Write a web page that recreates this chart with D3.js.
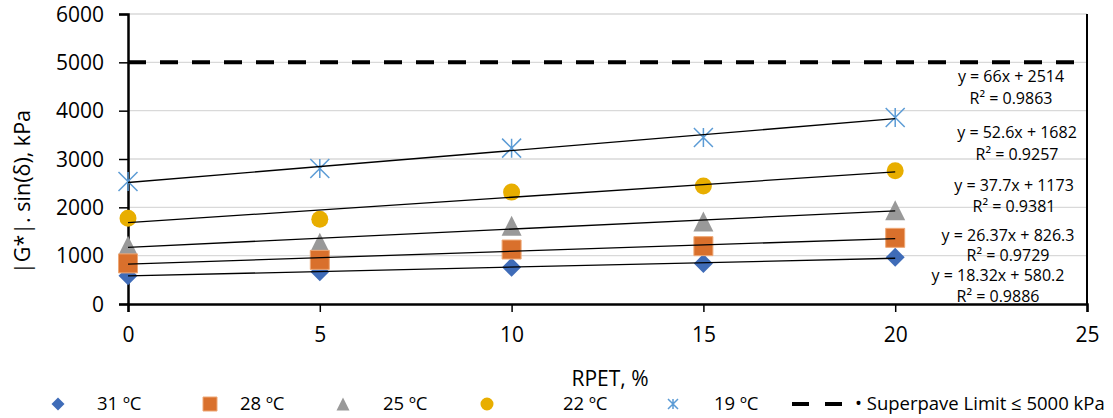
<!DOCTYPE html>
<html><head><meta charset="utf-8">
<script src="https://cdn.jsdelivr.net/npm/d3@7"></script>
<style>
body{margin:0;background:#fff}
svg{font-family:"Open Sans", Lato, sans-serif; display:block}
</style></head>
<body><svg id="chart" width="1113" height="418"></svg>
<script>
// ---- data ----
const rpet = [0, 5, 10, 15, 20];
const series31 = [585, 665, 760, 840, 965];
const series28 = [840, 913, 1127, 1197, 1369];
const series25 = [1203, 1265, 1618, 1707, 1940];
const series22 = [1775, 1755, 2315, 2440, 2755];
const series19 = [2535, 2805, 3225, 3445, 3860];
const seriesNames = ["31 ºC", "28 ºC", "25 ºC", "22 ºC", "19 ºC"];
const slopes = [18.32, 26.37, 37.7, 52.6, 66];
const intercepts = [580.2, 826.3, 1173, 1682, 2514];
const eqLabels = ["y = 18.32x + 580.2", "y = 26.37x + 826.3", "y = 37.7x + 1173", "y = 52.6x + 1682", "y = 66x + 2514"];
const r2Labels = ["R² = 0.9886", "R² = 0.9729", "R² = 0.9381", "R² = 0.9257", "R² = 0.9863"];
const xTicks = [0, 5, 10, 15, 20, 25];
const yTicks = [0, 1000, 2000, 3000, 4000, 5000, 6000];
const limitValue = 5000;
const limitLabel = "• Superpave Limit ≤ 5000 kPa";
const xTitle = "RPET, %";
const yTitle = "|G*|. sin(δ), kPa";

// ---- styles / layout ----
const colors = ["#3f6cb8", "#d9702c", "#999999", "#e8ae00", "#5b9bd5"];
const shapes = ["diamond", "square", "triangle", "circle", "star"];
const labelPos = [[998, 275], [1008, 235], [1014, 185], [1017, 132], [1011, 76]];
const labelGap = [21, 20, 21, 22, 22];
const legendPos = [[58, 97], [210, 240], [343, 383], [487, 563], [673, 714]];

const svg = d3.select("#chart");
const x = d3.scaleLinear().domain([0, 25]).range([128, 1087]);
const y = d3.scaleLinear().domain([0, 6000]).range([304, 14]);

// gridlines
svg.append("g").selectAll("line").data(yTicks.filter(d => d > 0)).join("line")
  .attr("x1", x(0)).attr("x2", x(25)).attr("y1", d => y(d)).attr("y2", d => y(d))
  .attr("stroke", "#d9d9d9").attr("stroke-width", 1.3);

// right border
svg.append("line").attr("x1", x(25)).attr("x2", x(25)).attr("y1", y(6000)).attr("y2", y(0))
  .attr("stroke", "#000").attr("stroke-width", 2);

// limit line
svg.append("line").attr("x1", x(0)).attr("x2", x(25)).attr("y1", y(limitValue)).attr("y2", y(limitValue))
  .attr("stroke", "#000").attr("stroke-width", 4).attr("stroke-dasharray", "18,14");

// axes
const yAxis = svg.append("g").attr("transform", `translate(${x(0)},0)`)
  .call(d3.axisLeft(y).tickValues(yTicks).tickSize(9).tickPadding(15).tickFormat(d3.format("d")));
const xAxis = svg.append("g").attr("transform", `translate(0,${y(0)})`)
  .call(d3.axisBottom(x).tickValues(xTicks).tickSize(8).tickPadding(15).tickFormat(d3.format("d")));
[xAxis, yAxis].forEach(a => {
  a.select(".domain").attr("stroke", "#000").attr("stroke-width", 2.5);
  a.selectAll(".tick line").attr("stroke", "#000").attr("stroke-width", 1.5);
  a.selectAll("text").attr("font-size", 21).attr("fill", "#000").attr("font-family", "'Open Sans', Lato, sans-serif");
});
yAxis.selectAll(".tick text").attr("dy", "0.34em");

function markerPath(shape, cx, cy, s) {
  const h = s / 2;
  if (shape === "diamond") return `M${cx},${cy - h}L${cx + h},${cy}L${cx},${cy + h}L${cx - h},${cy}Z`;
  if (shape === "square") return `M${cx - h},${cy - h}H${cx + h}V${cy + h}H${cx - h}Z`;
  if (shape === "triangle") return `M${cx},${cy - h}L${cx + h},${cy + h}L${cx - h},${cy + h}Z`;
  if (shape === "circle") return `M${cx - h},${cy}A${h},${h} 0 1,0 ${cx + h},${cy}A${h},${h} 0 1,0 ${cx - h},${cy}Z`;
  // star: X plus vertical line
  return `M${cx - h},${cy - h}L${cx + h},${cy + h}M${cx - h},${cy + h}L${cx + h},${cy - h}M${cx},${cy - h}L${cx},${cy + h}`;
}
function drawMarker(g, shape, color, cx, cy, s) {
  const p = g.append("path").attr("d", markerPath(shape, cx, cy, s));
  if (shape === "star") p.attr("fill", "none").attr("stroke", color).attr("stroke-width", 1.5);
  else if (shape === "square") p.attr("fill", color).attr("stroke", "#eea876").attr("stroke-width", 1);
  else p.attr("fill", color);
}

const allSeries = [series31, series28, series25, series22, series19];
const sizes = [19, 19, 20, 17, 19];
const drawOrder = [0, 2, 1, 3, 4];
const markG = svg.append("g");
drawOrder.forEach(i => {
  allSeries[i].forEach((v, j) => drawMarker(markG, shapes[i], colors[i], x(rpet[j]), y(v), sizes[i]));
});

// trendlines
const trendG = svg.append("g");
slopes.forEach((m, i) => {
  trendG.append("line")
    .attr("x1", x(rpet[0])).attr("y1", y(intercepts[i] + m * rpet[0]))
    .attr("x2", x(rpet[rpet.length - 1])).attr("y2", y(intercepts[i] + m * rpet[rpet.length - 1]))
    .attr("stroke", "#000").attr("stroke-width", 1.3);
});

// trend labels
const labG = svg.append("g").attr("font-size", 16).attr("fill", "#000").attr("text-anchor", "middle");
eqLabels.forEach((t, i) => {
  labG.append("text").attr("x", labelPos[i][0]).attr("y", labelPos[i][1]).attr("dy", "0.35em").text(t);
  labG.append("text").attr("x", labelPos[i][0]).attr("y", labelPos[i][1] + labelGap[i]).attr("dy", "0.35em").text(r2Labels[i]);
});

// axis titles
svg.append("text").attr("x", 610).attr("y", 379).attr("dy", "0.35em")
  .attr("text-anchor", "middle").attr("font-size", 21).text(xTitle);
svg.append("text").attr("transform", "translate(22,192) rotate(-90)").attr("dy", "0.35em")
  .attr("text-anchor", "middle").attr("font-size", 21.5).text(yTitle);

// legend
const legG = svg.append("g").attr("font-size", 18.5);
const ly = 404;
const legSizes = [13, 14, 13, 13, 10];
seriesNames.forEach((n, i) => {
  drawMarker(legG, shapes[i], colors[i], legendPos[i][0], ly, legSizes[i]);
  legG.append("text").attr("x", legendPos[i][1]).attr("y", ly).attr("dy", "0.35em").text(n);
});
legG.append("line").attr("x1", 792).attr("x2", 842).attr("y1", ly).attr("y2", ly)
  .attr("stroke", "#000").attr("stroke-width", 4).attr("stroke-dasharray", "17,16");
legG.append("text").attr("x", 855).attr("y", ly).attr("dy", "0.35em").text(limitLabel);
</script></body></html>
